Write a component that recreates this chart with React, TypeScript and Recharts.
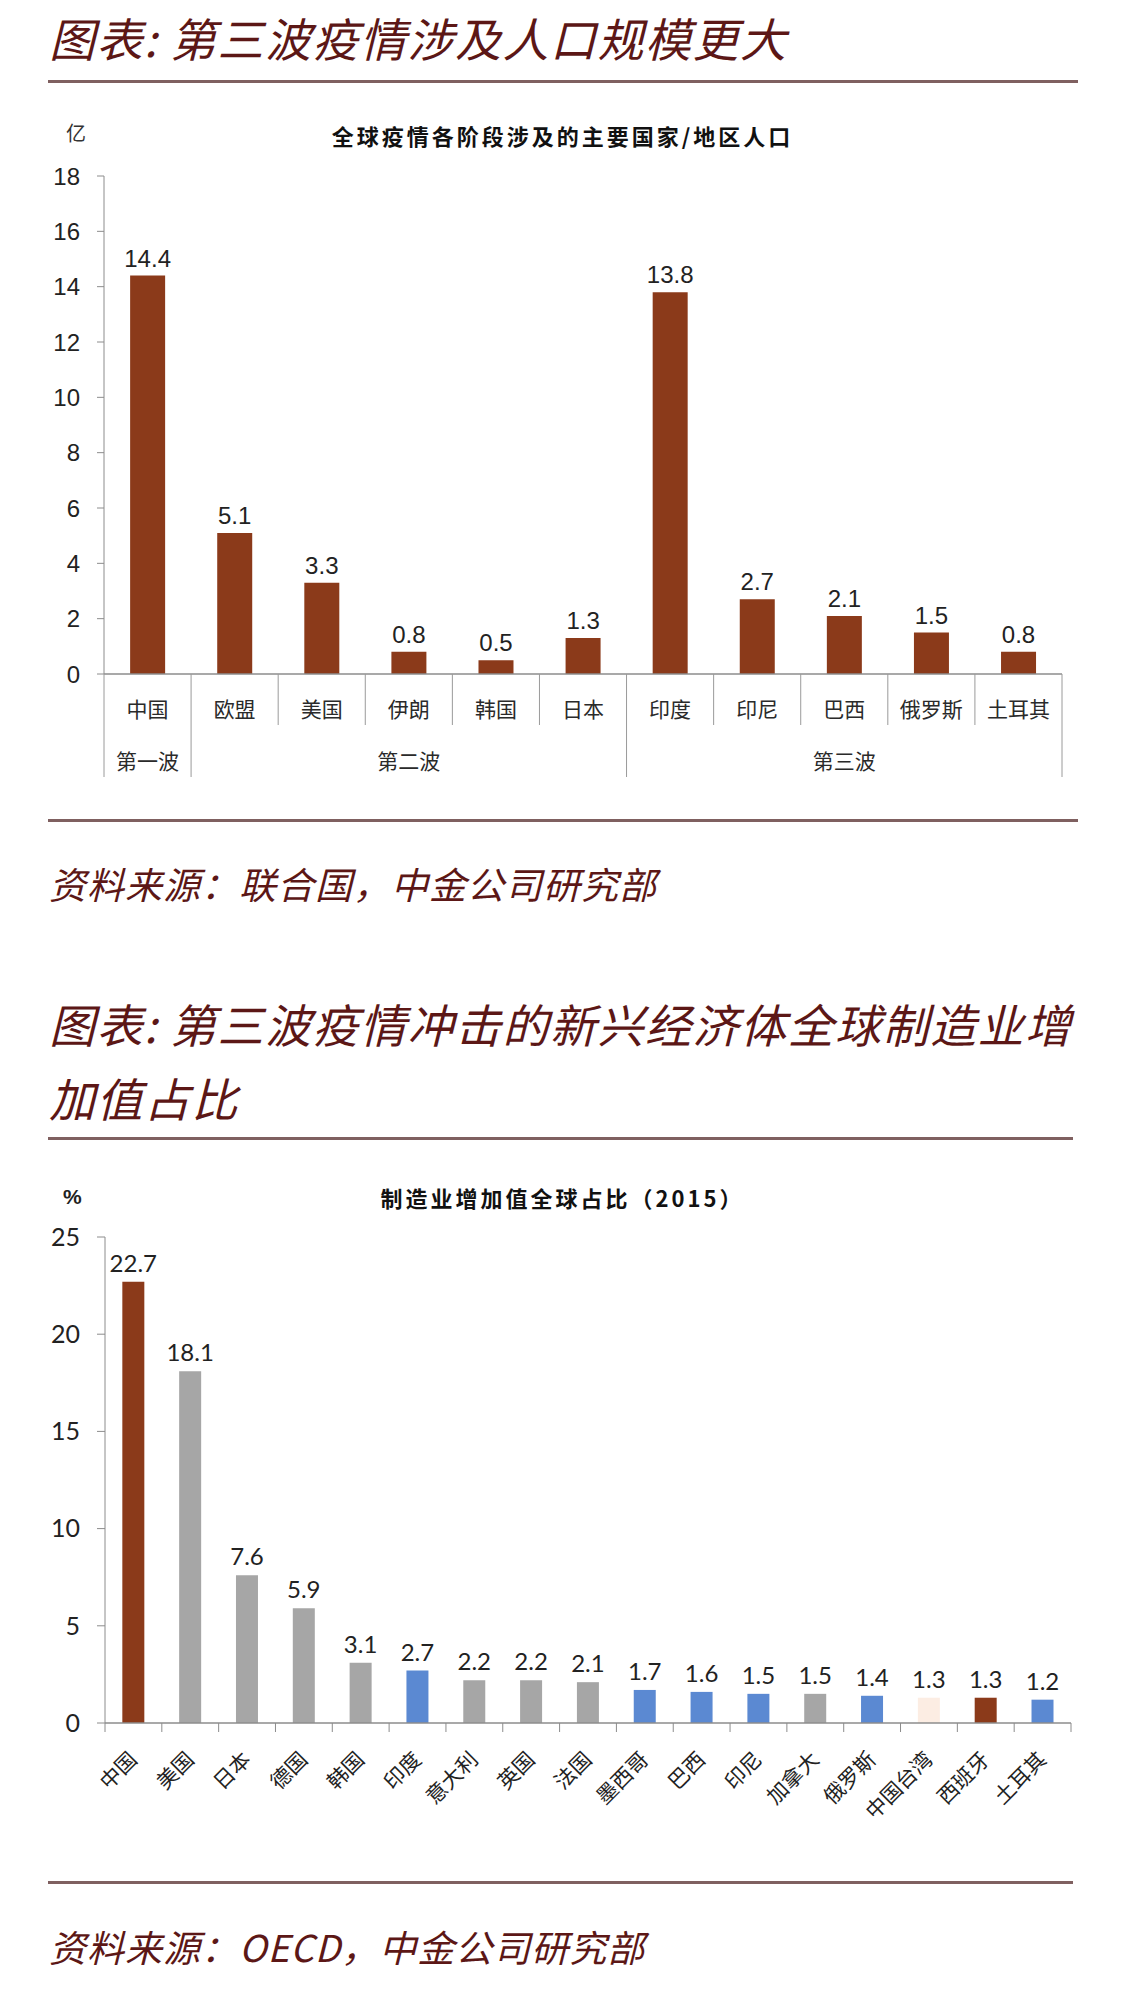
import React from 'react';
import { BarChart, Bar, XAxis, YAxis, LabelList, Cell } from 'recharts';

// ---------- Chart 1 data ----------
const popCategories = ['中国', '欧盟', '美国', '伊朗', '韩国', '日本', '印度', '印尼', '巴西', '俄罗斯', '土耳其'];
const popValues = [14.4, 5.1, 3.3, 0.8, 0.5, 1.3, 13.8, 2.7, 2.1, 1.5, 0.8];
const waveNames = ['第一波', '第二波', '第三波'];
const waveOfCategory = [0, 1, 1, 1, 1, 1, 2, 2, 2, 2, 2];
const popTicks = [0, 2, 4, 6, 8, 10, 12, 14, 16, 18];

// ---------- Chart 2 data ----------
const mfgCategories = ['中国', '美国', '日本', '德国', '韩国', '印度', '意大利', '英国', '法国', '墨西哥', '巴西', '印尼', '加拿大', '俄罗斯', '中国台湾', '西班牙', '土耳其'];
const mfgValues = [22.7, 18.1, 7.6, 5.9, 3.1, 2.7, 2.2, 2.2, 2.1, 1.7, 1.6, 1.5, 1.5, 1.4, 1.3, 1.3, 1.2];
const mfgGroups = ['cn', 'dev', 'dev', 'dev', 'dev', 'em', 'dev', 'dev', 'dev', 'em', 'em', 'em', 'dev', 'em', 'tw', 'es', 'em'];
const mfgTicks = [0, 5, 10, 15, 20, 25];

// ---------- styles ----------
const groupColors: Record<string, string> = {
  cn: '#8b3a1a',
  dev: '#a6a6a6',
  em: '#5b89d2',
  tw: '#fcede3',
  es: '#8b3a1a',
};
const BAR1 = '#8b3a1a';
const TITLE_COLOR = '#5c1716';
const RULE_COLOR = '#7f6060';
const AXIS_COLOR = '#8c8c8c';
const CJK = '"Noto Sans CJK SC", "Noto Sans", sans-serif';
const NUM1 = '"Liberation Sans", Arial, sans-serif';
const NUM2 = 'Lato, "Liberation Sans", sans-serif';

const popData = popCategories.map((name, i) => ({ name, value: popValues[i] }));
const mfgData = mfgCategories.map((name, i) => ({ name, value: mfgValues[i], group: mfgGroups[i] }));

// chart 1 geometry
const C1_LEFT = 104;
const C1_RIGHT = 1062;
const C1_TOP = 176;
const C1_AXIS = 674;
const C1_BW = (C1_RIGHT - C1_LEFT) / popCategories.length;

// chart 2 geometry (chart placed at top offset C2_Y)
const C2_Y = 1100;
const C2_LEFT = 105;
const C2_RIGHT = 1071;
const C2_TOP = 1237 - C2_Y;
const C2_AXIS = 1723 - C2_Y;
const C2_BW = (C2_RIGHT - C2_LEFT) / mfgCategories.length;

const YW = 60;

const PopTick = (props: any) => {
  const { x, y, payload } = props;
  const i: number = payload.index ?? props.index;
  const half = payload.offset && payload.offset > 0 ? payload.offset : C1_BW / 2;
  const w = waveOfCategory[i];
  const isStart = i === 0 || waveOfCategory[i - 1] !== w;
  const members = waveOfCategory.map((v, k) => (v === w ? k : -1)).filter((k) => k >= 0);
  const mid = members[Math.floor(members.length / 2)];
  const last = popCategories.length - 1;
  return (
    <g>
      <line x1={x - half} x2={x - half} y1={y} y2={y + (isStart ? 103 : 51)} stroke="#9a9a9a" strokeWidth={1} />
      {i === last && <line x1={x + half} x2={x + half} y1={y} y2={y + 103} stroke="#9a9a9a" strokeWidth={1} />}
      <text x={x} y={y + 34} textAnchor="middle" dominantBaseline="central" fontSize={21} fontFamily={CJK} fill="#2a2a2a">
        {payload.value}
      </text>
      {i === mid && (
        <text x={x} y={y + 86} textAnchor="middle" dominantBaseline="central" fontSize={21} fontFamily={CJK} fill="#2a2a2a">
          {waveNames[w]}
        </text>
      )}
    </g>
  );
};

const MfgTick = (props: any) => {
  const { x, y, payload } = props;
  const i: number = payload.index ?? props.index;
  const half = payload.offset && payload.offset > 0 ? payload.offset : C2_BW / 2;
  const last = mfgCategories.length - 1;
  const ax = x + 5;
  const ay = y + 38;
  return (
    <g>
      <line x1={x - half} x2={x - half} y1={y} y2={y + 9} stroke={AXIS_COLOR} strokeWidth={1} />
      {i === last && <line x1={x + half} x2={x + half} y1={y} y2={y + 9} stroke={AXIS_COLOR} strokeWidth={1} />}
      <text x={ax} y={ay} textAnchor="end" transform={`rotate(-45 ${ax} ${ay})`} fontSize={21} fontFamily={CJK} fill="#222">
        {payload.value}
      </text>
    </g>
  );
};

const abs = (style: React.CSSProperties): React.CSSProperties => ({ position: 'absolute', ...style });

const titleStyle: React.CSSProperties = {
  position: 'absolute',
  left: 49,
  fontFamily: CJK,
  fontStyle: 'italic',
  fontSize: 46,
  letterSpacing: 1.5,
  lineHeight: '46px',
  color: TITLE_COLOR,
  whiteSpace: 'nowrap',
};

const sourceStyle: React.CSSProperties = {
  position: 'absolute',
  left: 49,
  fontFamily: CJK,
  fontStyle: 'italic',
  fontSize: 37,
  letterSpacing: 1,
  lineHeight: '37px',
  color: TITLE_COLOR,
  whiteSpace: 'nowrap',
};

const chartTitleStyle: React.CSSProperties = {
  position: 'absolute',
  left: 0,
  width: 1125,
  textAlign: 'center',
  fontFamily: CJK,
  fontWeight: 700,
  fontSize: 22,
  letterSpacing: 3,
  lineHeight: '22px',
  color: '#111',
  whiteSpace: 'nowrap',
};

export default function App() {
  return (
    <div style={abs({ left: 0, top: 0, width: 1125, height: 1999, background: '#fff', overflow: 'hidden' })}>
      {/* Title 1 */}
      <div style={{ ...titleStyle, top: 14 }}>图表: 第三波疫情涉及人口规模更大</div>
      <div style={abs({ left: 48, top: 80, width: 1030, height: 3, background: RULE_COLOR })} />

      {/* Chart 1 */}
      <div style={{ ...chartTitleStyle, top: 124 }}>全球疫情各阶段涉及的主要国家/地区人口</div>
      <div style={abs({ left: 66, top: 122, fontFamily: CJK, fontSize: 20, lineHeight: '22px', color: '#333' })}>亿</div>
      <div style={abs({ left: 0, top: 0 })}>
        <BarChart
          width={1125}
          height={C1_AXIS + 115}
          data={popData}
          margin={{ top: C1_TOP, right: 1125 - C1_RIGHT, bottom: 0, left: C1_LEFT - YW }}
          barCategoryGap="30%"
        >
          <XAxis
            dataKey="name"
            interval={0}
            height={115}
            axisLine={{ stroke: AXIS_COLOR, strokeWidth: 1.5 }}
            tickLine={false}
            tickSize={0}
            tickMargin={0}
            tick={<PopTick />}
          />
          <YAxis
            width={YW}
            domain={[0, 18]}
            ticks={popTicks}
            interval={0}
            axisLine={{ stroke: AXIS_COLOR, strokeWidth: 1 }}
            tickLine={{ stroke: AXIS_COLOR }}
            tickSize={7}
            tickMargin={17}
            tick={{ fontSize: 24, fontFamily: NUM1, fill: '#222' }}
          />
          <Bar dataKey="value" fill={BAR1} isAnimationActive={false}>
            <LabelList dataKey="value" position="top" offset={9} fontSize={24} fontFamily={NUM1} fill="#222" />
          </Bar>
        </BarChart>
      </div>

      <div style={abs({ left: 48, top: 819, width: 1030, height: 3, background: RULE_COLOR })} />
      <div style={{ ...sourceStyle, top: 865 }}>资料来源：联合国，中金公司研究部</div>

      {/* Title 2 */}
      <div style={{ ...titleStyle, top: 1000 }}>图表: 第三波疫情冲击的新兴经济体全球制造业增</div>
      <div style={{ ...titleStyle, top: 1074 }}>加值占比</div>
      <div style={abs({ left: 48, top: 1137, width: 1025, height: 3, background: RULE_COLOR })} />

      {/* Chart 2 */}
      <div style={{ ...chartTitleStyle, top: 1186 }}>制造业增加值全球占比（2015）</div>
      <div style={abs({ left: 63, top: 1185, fontFamily: NUM1, fontWeight: 700, fontSize: 21, lineHeight: '24px', color: '#222' })}>%</div>
      <div style={abs({ left: 0, top: C2_Y })}>
        <BarChart
          width={1125}
          height={C2_AXIS + 130}
          data={mfgData}
          margin={{ top: C2_TOP, right: 1125 - C2_RIGHT, bottom: 0, left: C2_LEFT - YW }}
          barCategoryGap="30.5%"
        >
          <XAxis
            dataKey="name"
            interval={0}
            height={130}
            axisLine={{ stroke: AXIS_COLOR, strokeWidth: 1.5 }}
            tickLine={false}
            tickSize={0}
            tickMargin={0}
            tick={<MfgTick />}
          />
          <YAxis
            width={YW}
            domain={[0, 25]}
            ticks={mfgTicks}
            interval={0}
            axisLine={{ stroke: AXIS_COLOR, strokeWidth: 1 }}
            tickLine={{ stroke: AXIS_COLOR }}
            tickSize={8}
            tickMargin={17}
            tick={{ fontSize: 25, fontFamily: NUM2, fill: '#222' }}
          />
          <Bar dataKey="value" isAnimationActive={false}>
            {mfgData.map((d, i) => (
              <Cell key={i} fill={groupColors[d.group]} />
            ))}
            <LabelList dataKey="value" position="top" offset={10} fontSize={24} fontFamily={NUM2} fill="#222" />
          </Bar>
        </BarChart>
      </div>

      <div style={abs({ left: 48, top: 1881, width: 1025, height: 3, background: RULE_COLOR })} />
      <div style={{ ...sourceStyle, top: 1928 }}>资料来源：OECD，中金公司研究部</div>
    </div>
  );
}
